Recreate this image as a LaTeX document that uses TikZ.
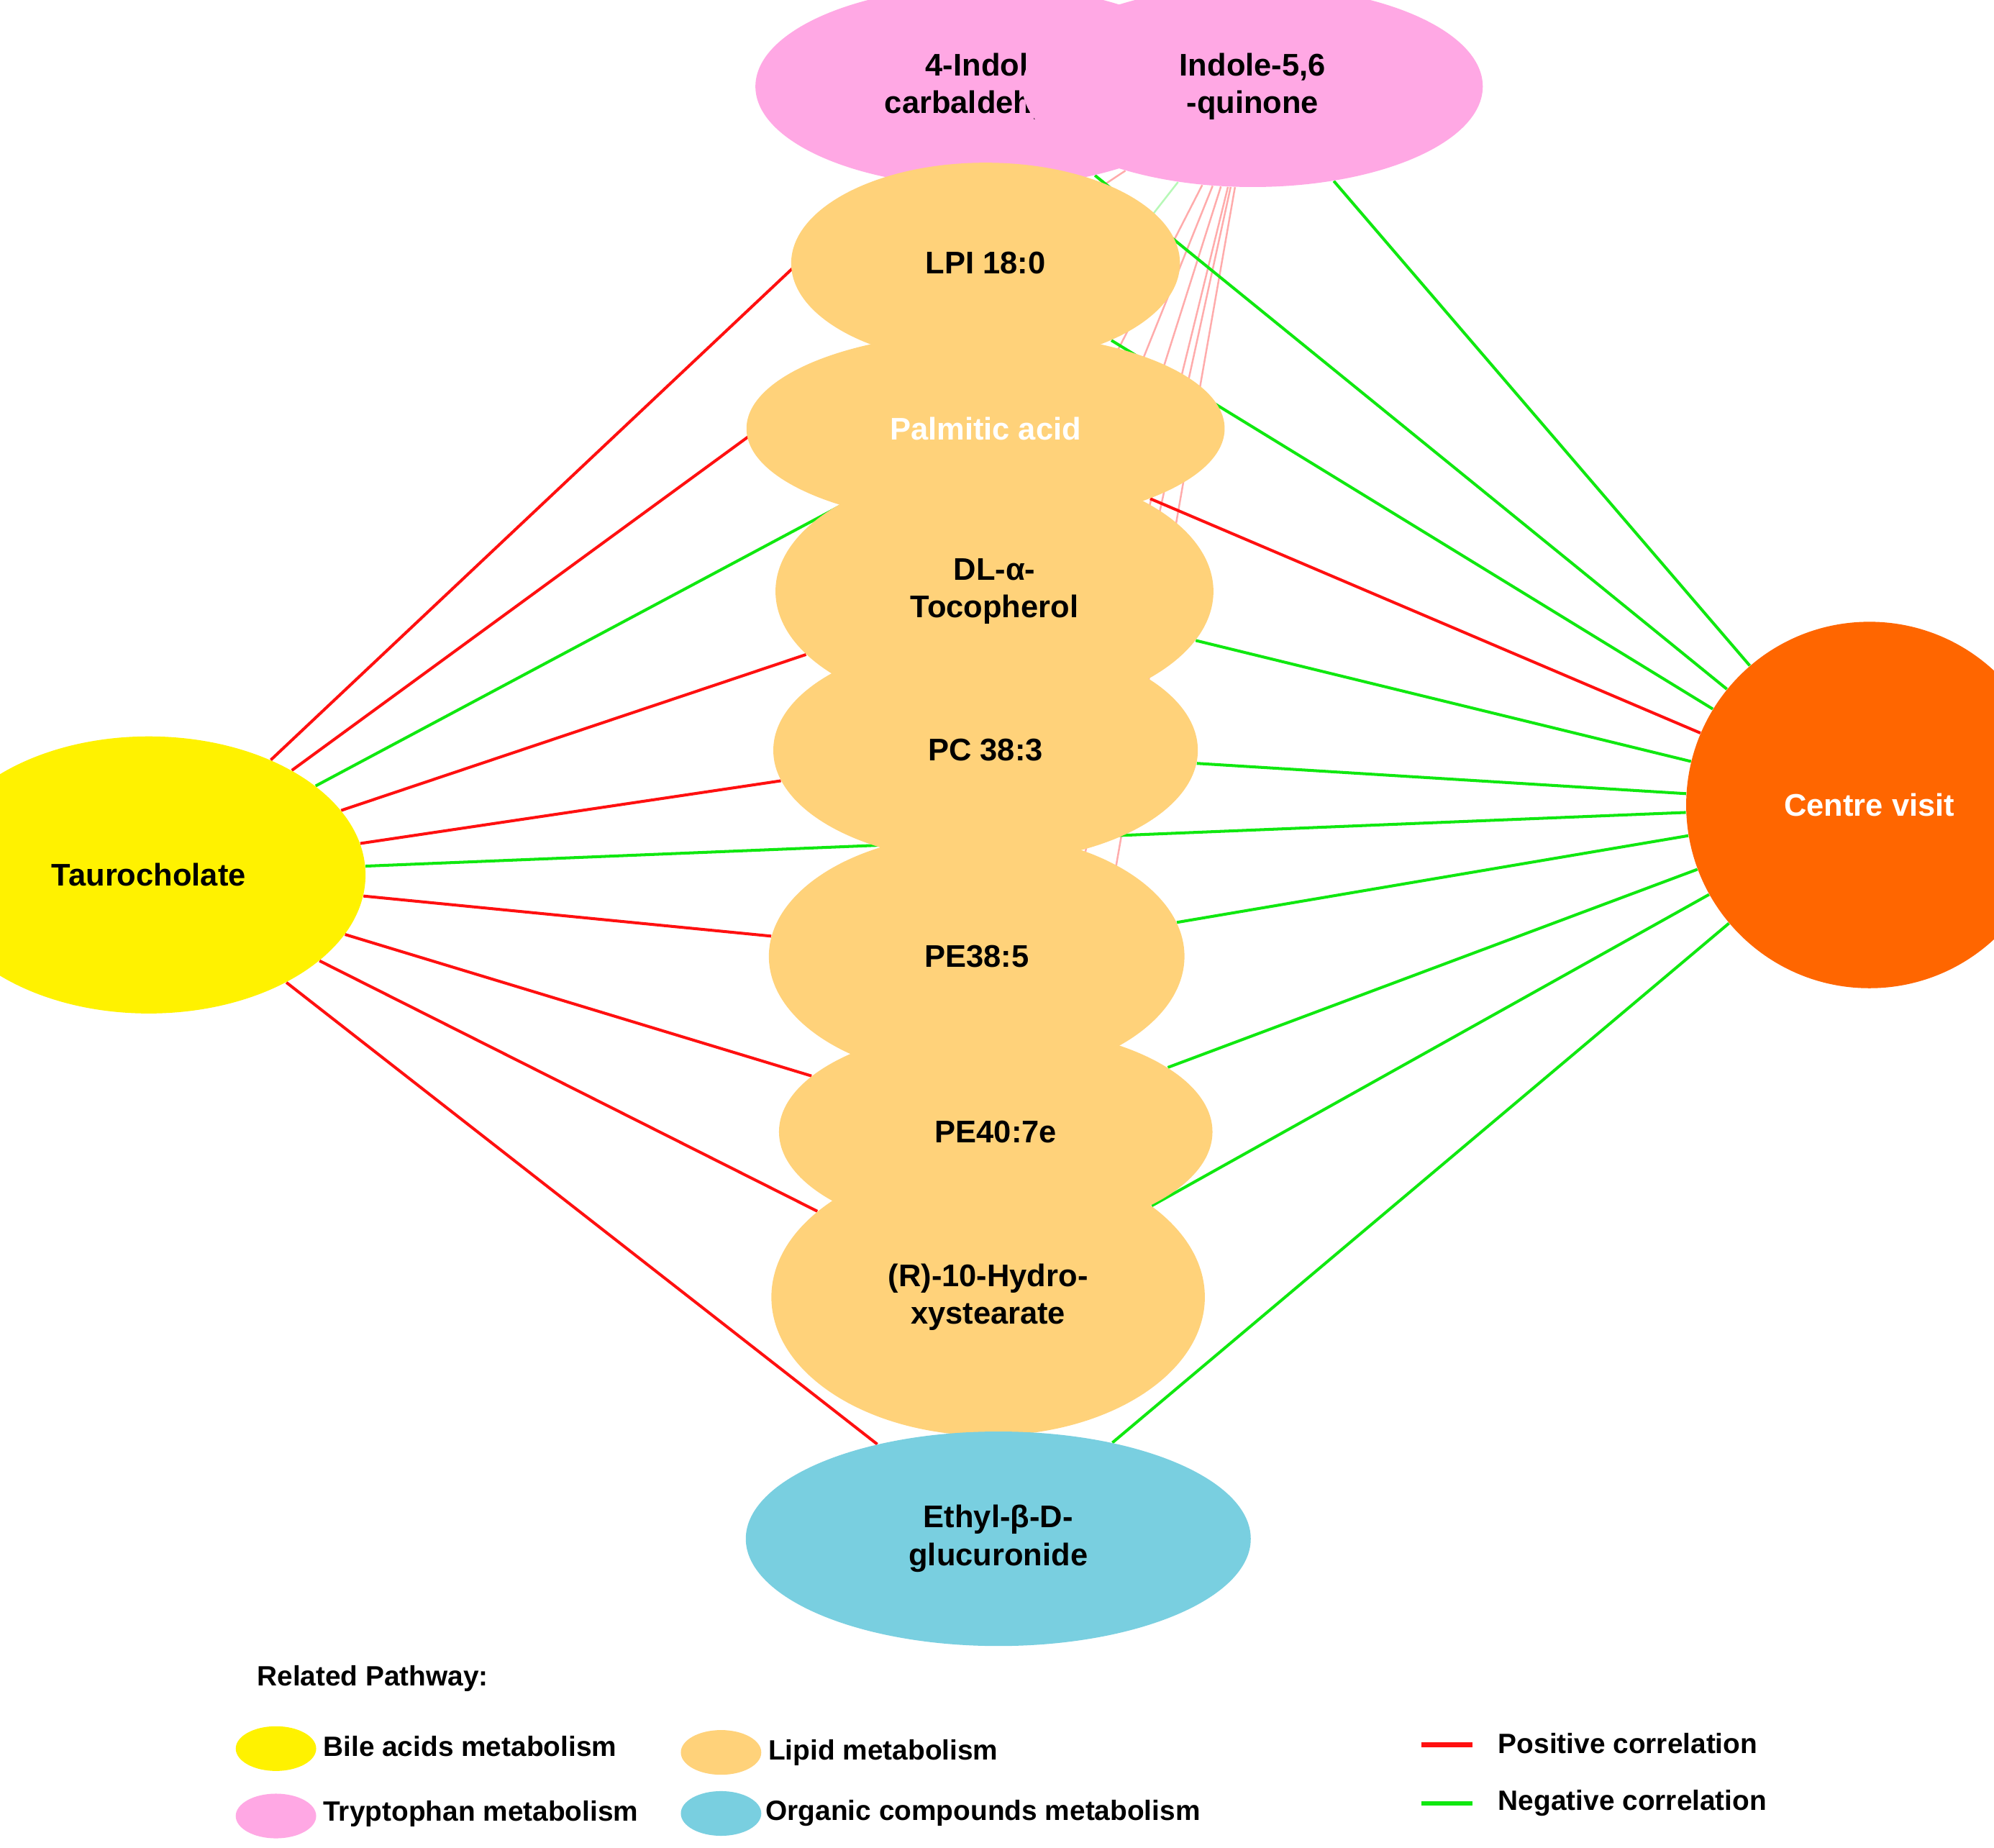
\documentclass[tikz,border=0pt]{standalone}
\usepackage{fontspec}
\setmainfont{Liberation Sans}
\usetikzlibrary{shapes.geometric}
\pgfdeclarelayer{bg}
\pgfsetlayers{bg,main}
\begin{document}
\begin{tikzpicture}[x=0.02cm,y=-0.02cm,
  nd/.style={ellipse,draw=none,inner sep=0pt,font=\bfseries\fontsize{14}{17}\selectfont,align=center},
  lip/.style={nd,fill=lipidc},
  posl/.style={draw=posc,line width=1.3pt},
  negl/.style={draw=negc,line width=1.3pt},
  fpos/.style={draw=posc!35,line width=0.8pt},
  fneg/.style={draw=negc!30,line width=0.8pt},
  chain/.style={draw=posc!40,line width=2pt},
  lg/.style={font=\bfseries\fontsize{12.5}{15}\selectfont,anchor=west},
  lgdot/.style={ellipse,minimum width=36,minimum height=20,inner sep=0pt}]
\definecolor{pinkc}{HTML}{FFA8E4}
\definecolor{lipidc}{HTML}{FFD27A}
\definecolor{cyanc}{HTML}{79CFE0}
\definecolor{orc}{HTML}{FF6600}
\definecolor{posc}{HTML}{FF1010}
\definecolor{negc}{HTML}{10E810}
\useasboundingbox (0,0) rectangle (1568,1453);
% nodes
\node[nd,fill=pinkc,minimum width=206,minimum height=90] (ind) at (775,68) {4-Indole\\carbaldehyde};
\node[nd,fill=pinkc,minimum width=206,minimum height=90] (qui) at (985,68) {Indole-5,6\\-quinone};
\node[lip,minimum width=174,minimum height=90] (lpi) at (775,207) {LPI 18:0};
\node[lip,minimum width=214,minimum height=86,text=white] (pal) at (775,337) {Palmitic acid};
\node[lip,minimum width=196,minimum height=110] (toc) at (782,465) {DL-α-\\Tocopherol};
\node[lip,minimum width=190,minimum height=100] (pc) at (775,590) {PC 38:3};
\node[lip,minimum width=186,minimum height=110] (pe1) at (768,752) {PE38:5};
\node[lip,minimum width=194,minimum height=94] (pe2) at (783,890) {PE40:7e};
\node[lip,minimum width=194,minimum height=124] (hyd) at (777,1020) {(R)-10-Hydro-\\xystearate};
\node[nd,fill=cyanc,minimum width=226,minimum height=96] (eth) at (785,1210) {Ethyl-β-D-\\glucuronide};
\node[nd,fill=yellow,minimum width=194,minimum height=124] (tau) at (117,688) {Taurocholate};
\node[circle,fill=orc,minimum size=164,inner sep=0pt,text=white,font=\bfseries\fontsize{14}{17}\selectfont] (cv) at (1470,633) {Centre visit};
\begin{pgfonlayer}{bg}
\fill[white] (0,0) rectangle (1568,1453);
\draw[chain] (ind) -- (lpi) (lpi) -- (pal) (pal) -- (toc) (toc) -- (pc) (pc) -- (pe1) (pe1) -- (pe2) (pe2) -- (hyd) (hyd) -- (eth);
\foreach \t in {lpi,toc,pc,pe1,pe2,hyd,eth} \draw[fpos] (qui) -- (\t);
\draw[fneg] (qui) -- (pal);
\draw[posl] (tau) -- (ind);
\draw[posl] (tau) -- (lpi);
\draw[negl] (tau) -- (pal);
\draw[posl] (tau) -- (toc);
\draw[posl] (tau) -- (pc);
\draw[negl] (tau) -- (cv);
\draw[posl] (tau) -- (pe1);
\draw[posl] (tau) -- (pe2);
\draw[posl] (tau) -- (hyd);
\draw[posl] (tau) -- (eth);
\draw[negl] (cv) -- (ind);
\draw[negl] (cv) -- (qui);
\draw[negl] (cv) -- (lpi);
\draw[posl] (cv) -- (pal);
\draw[negl] (cv) -- (toc);
\draw[negl] (cv) -- (pc);
\draw[negl] (cv) -- (pe1);
\draw[negl] (cv) -- (pe2);
\draw[negl] (cv) -- (hyd);
\draw[negl] (cv) -- (eth);
\end{pgfonlayer}
% legend
\node[lg] (lt) at (196,1320) {Related Pathway:};
\node[lgdot,fill=yellow] (l1) at (217,1375) {};
\node[lg] (t1) at (248,1373) {Bile acids metabolism};
\node[lgdot,fill=lipidc] (l2) at (567,1378) {};
\node[lg] (t2) at (598,1378) {Lipid metabolism};
\node[lgdot,fill=pinkc] (l3) at (217,1428) {};
\node[lg] (t3) at (248,1426) {Tryptophan metabolism};
\node[lgdot,fill=cyanc] (l4) at (567,1426) {};
\node[lg] (t4) at (596,1426) {Organic compounds metabolism};
\coordinate (r1) at (1118,1372); \coordinate (r2) at (1158,1372);
\draw[posl,line width=2pt] (r1) -- (r2);
\node[lg] (t5) at (1172,1371) {Positive correlation};
\coordinate (g1) at (1118,1418); \coordinate (g2) at (1158,1418);
\draw[negl,line width=2pt] (g1) -- (g2);
\node[lg] (t6) at (1172,1418) {Negative correlation};
\end{tikzpicture}
\end{document}
